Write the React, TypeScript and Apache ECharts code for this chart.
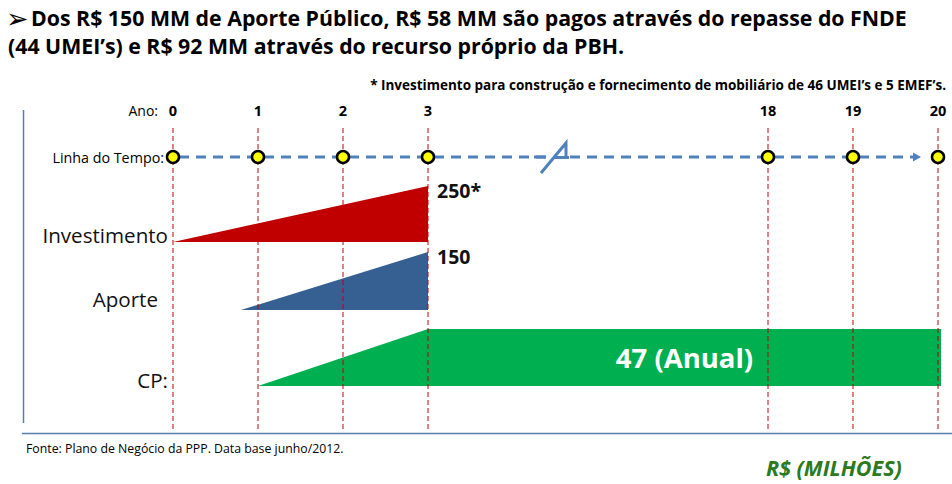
import React, { useEffect, useRef } from "react";
import * as echarts from "echarts";

// ---------- data ----------
const YEARS = [0, 1, 2, 3, 18, 19, 20];
const YEAR_LABELS = ["0", "1", "2", "3", "18", "19", "20"];
const ROW_NAMES = ["Investimento", "Aporte", "CP:"];
const ROW_START_YEAR = [0, 0.8, 1];
const ROW_RAMP_END_YEAR = [3, 3, 3];
const ROW_END_YEAR = [3, 3, 20];
const ROW_VALUES = [250, 150, 47];
const ROW_VALUE_LABELS = ["250*", "150", "47 (Anual)"];

const TITLE_LINES = [
  "Dos R$ 150 MM de Aporte Público, R$ 58 MM são pagos através do repasse do FNDE",
  "(44 UMEI\u2019s) e R$ 92 MM através do recurso próprio da PBH.",
];
const NOTE = "* Investimento para construção e fornecimento de mobiliário de 46 UMEI\u2019s e 5 EMEF\u2019s.";
const SOURCE = "Fonte: Plano de Negócio da PPP. Data base junho/2012.";
const UNIT = "R$ (MILHÕES)";

// ---------- layout / style ----------
const W = 952;
const H = 484;
const X0_PX = 173; // pixel of year 0
const UNIT_PX = 85; // pixels per timeline slot
const BREAK_SKIP = 11; // years hidden by the axis break
const slot = (year: number) => (year <= 3 ? year : year - BREAK_SKIP);

const LAYOUT = {
  yearLabelY: 110,
  timelineY: 157,
  guideTop: 128,
  guideBottom: 432,
  rows: [
    { top: 186, base: 242, nameRight: 168, nameY: 235 },
    { top: 252, base: 310, nameRight: 158, nameY: 299 },
    { top: 329, base: 386, nameRight: 168, nameY: 380 },
  ],
};
const ROW_COLORS = ["#C00000", "#376092", "#00B050"];
const FONT = "'Open Sans', 'Noto Sans', 'DejaVu Sans', sans-serif";
const BLUE = "#4F81BD";

export default function App() {
  const ref = useRef<HTMLDivElement>(null);

  useEffect(() => {
    if (!ref.current) return;
    const chart = echarts.init(ref.current, undefined, { renderer: "svg" });

    const shapeData = ROW_NAMES.map((_, i) => [
      slot(ROW_START_YEAR[i]),
      slot(ROW_RAMP_END_YEAR[i]),
      slot(ROW_END_YEAR[i]),
      i,
      ROW_VALUES[i],
    ]);

    const option: any = {
      animation: false,
      grid: { left: 0, right: 0, top: 0, bottom: 0 },
      xAxis: {
        type: "value",
        min: -X0_PX / UNIT_PX,
        max: (W - X0_PX) / UNIT_PX,
        show: false,
      },
      yAxis: { type: "value", min: 0, max: H, inverse: true, show: false },
      graphic: [
        {
          type: "text",
          x: 6,
          y: 18,
          style: {
            text: "\u27A2",
            font: `bold 27px 'DejaVu Sans', sans-serif`,
            fill: "#000",
            verticalAlign: "middle",
          },
        },
        {
          type: "text",
          x: 31,
          y: 17,
          style: {
            text: TITLE_LINES[0],
            font: `bold 21.3px ${FONT}`,
            fill: "#000",
            verticalAlign: "middle",
          },
        },
        {
          type: "text",
          x: 8,
          y: 45,
          style: {
            text: TITLE_LINES[1],
            font: `bold 21.3px ${FONT}`,
            fill: "#000",
            verticalAlign: "middle",
          },
        },
        {
          type: "text",
          x: 946,
          y: 85,
          style: {
            text: NOTE,
            font: `bold 13.5px ${FONT}`,
            fill: "#000",
            align: "right",
            verticalAlign: "middle",
          },
        },
        {
          type: "text",
          x: 158,
          y: LAYOUT.yearLabelY,
          style: { text: "Ano:", font: `14px ${FONT}`, fill: "#000", align: "right", verticalAlign: "middle" },
        },
        {
          type: "text",
          x: 164,
          y: LAYOUT.timelineY,
          style: { text: "Linha do Tempo:", font: `14.3px ${FONT}`, fill: "#000", align: "right", verticalAlign: "middle" },
        },
        {
          type: "line",
          shape: { x1: 23.5, y1: 110, x2: 23.5, y2: 423 },
          style: { stroke: "#5A7DB0", lineWidth: 1.5 },
        },
        {
          type: "line",
          shape: { x1: 22, y1: 433.5, x2: 952, y2: 433.5 },
          style: { stroke: "#5A7DB0", lineWidth: 1.5 },
        },
        // axis break mark
        {
          type: "rect",
          z: 19,
          shape: { x: 546, y: 153, width: 20, height: 9 },
          style: { fill: "#fff" },
        },
        {
          type: "polyline",
          z: 20,
          shape: { points: [[534, 157], [546, 157]] },
          style: { stroke: BLUE, lineWidth: 3, fill: null },
        },
        {
          type: "polyline",
          z: 20,
          shape: { points: [[541, 173], [566, 143], [566, 158]] },
          style: { stroke: BLUE, lineWidth: 3, fill: null },
        },
        {
          type: "polyline",
          z: 20,
          shape: { points: [[553, 157.5], [569, 157.5]] },
          style: { stroke: BLUE, lineWidth: 3, fill: null },
        },
        {
          type: "text",
          x: 26,
          y: 448,
          style: { text: SOURCE, font: `12.3px ${FONT}`, fill: "#000", verticalAlign: "middle" },
        },
        {
          type: "text",
          x: 766,
          y: 467,
          style: {
            text: UNIT,
            font: `italic bold 21.5px ${FONT}`,
            fill: "#2C7A20",
            verticalAlign: "middle",
          },
        },
      ],
      series: [
        // ramp / bar shapes
        {
          type: "custom",
          z: 2,
          clip: false,
          data: shapeData,
          renderItem: (params: any, api: any) => {
            const i = api.value(3);
            const row = LAYOUT.rows[i];
            const s = api.value(0);
            const r = api.value(1);
            const e = api.value(2);
            const p0 = api.coord([s, row.base]);
            const p1 = api.coord([r, row.top]);
            const p2 = api.coord([e, row.top]);
            const p3 = api.coord([e, row.base]);
            const pts =
              e > r
                ? [p0, p1, [p2[0] + 3, p2[1]], [p3[0] + 3, p3[1]]]
                : [p0, p1, p3];
            const children: any[] = [
              { type: "polygon", shape: { points: pts }, style: { fill: ROW_COLORS[i] } },
              {
                type: "text",
                style: {
                  text: ROW_NAMES[i],
                  x: row.nameRight,
                  y: row.nameY,
                  font: `20.6px ${FONT}`,
                  fill: "#111",
                  align: "right",
                  verticalAlign: "middle",
                },
              },
            ];
            if (e > r) {
              children.push({
                type: "text",
                style: {
                  text: ROW_VALUE_LABELS[i],
                  x: (p1[0] + p2[0] + 3) / 2,
                  y: (row.top + row.base) / 2,
                  font: `bold 27.5px ${FONT}`,
                  fill: "#fff",
                  align: "center",
                  verticalAlign: "middle",
                },
              });
            } else {
              children.push({
                type: "text",
                style: {
                  text: ROW_VALUE_LABELS[i],
                  x: p1[0] + 9,
                  y: row.top + 4,
                  font: `bold 19.5px ${FONT}`,
                  fill: "#111",
                  align: "left",
                  verticalAlign: "middle",
                },
              });
            }
            return { type: "group", children };
          },
        },
        // red dashed guides
        {
          type: "custom",
          z: 3,
          clip: false,
          data: YEARS.map((y, i) => [slot(y), i]),
          renderItem: (params: any, api: any) => {
            const a = api.coord([api.value(0), LAYOUT.guideTop]);
            const b = api.coord([api.value(0), LAYOUT.guideBottom]);
            const lab = api.coord([api.value(0), LAYOUT.yearLabelY]);
            return {
              type: "group",
              children: [
                {
                  type: "line",
                  shape: { x1: a[0], y1: a[1], x2: b[0], y2: b[1] },
                  style: { stroke: "#C00000", lineWidth: 1, lineDash: [5, 3] },
                },
                {
                  type: "text",
                  style: {
                    text: YEAR_LABELS[api.value(1)],
                    x: lab[0],
                    y: lab[1],
                    font: `bold 14.5px ${FONT}`,
                    fill: "#000",
                    align: "center",
                    verticalAlign: "middle",
                  },
                },
              ],
            };
          },
        },
        // timeline dashed arrow
        {
          type: "custom",
          z: 4,
          clip: false,
          data: [[slot(YEARS[0]), slot(YEARS[YEARS.length - 1])]],
          renderItem: (params: any, api: any) => {
            const a = api.coord([api.value(0), LAYOUT.timelineY]);
            const b = api.coord([api.value(1), LAYOUT.timelineY]);
            const tip = b[0] - 17;
            return {
              type: "group",
              children: [
                {
                  type: "line",
                  shape: { x1: a[0] + 6, y1: a[1], x2: tip - 7, y2: a[1] },
                  style: { stroke: BLUE, lineWidth: 3, lineDash: [10, 7] },
                },
                {
                  type: "polygon",
                  shape: { points: [[tip - 8, a[1] - 4.5], [tip, a[1]], [tip - 8, a[1] + 4.5]] },
                  style: { fill: BLUE },
                },
              ],
            };
          },
        },
        // timeline points
        {
          type: "scatter",
          z: 5,
          symbol: "circle",
          symbolSize: 12,
          itemStyle: { color: "#FFFF00", borderColor: "#000", borderWidth: 2.5, opacity: 1 },
          data: YEARS.map((y) => [slot(y), LAYOUT.timelineY]),
          silent: true,
        },
      ],
    };

    chart.setOption(option);
    return () => chart.dispose();
  }, []);

  return (
    <div
      ref={ref}
      style={{ position: "fixed", left: 0, top: 0, width: W, height: H, background: "#fff" }}
    />
  );
}
